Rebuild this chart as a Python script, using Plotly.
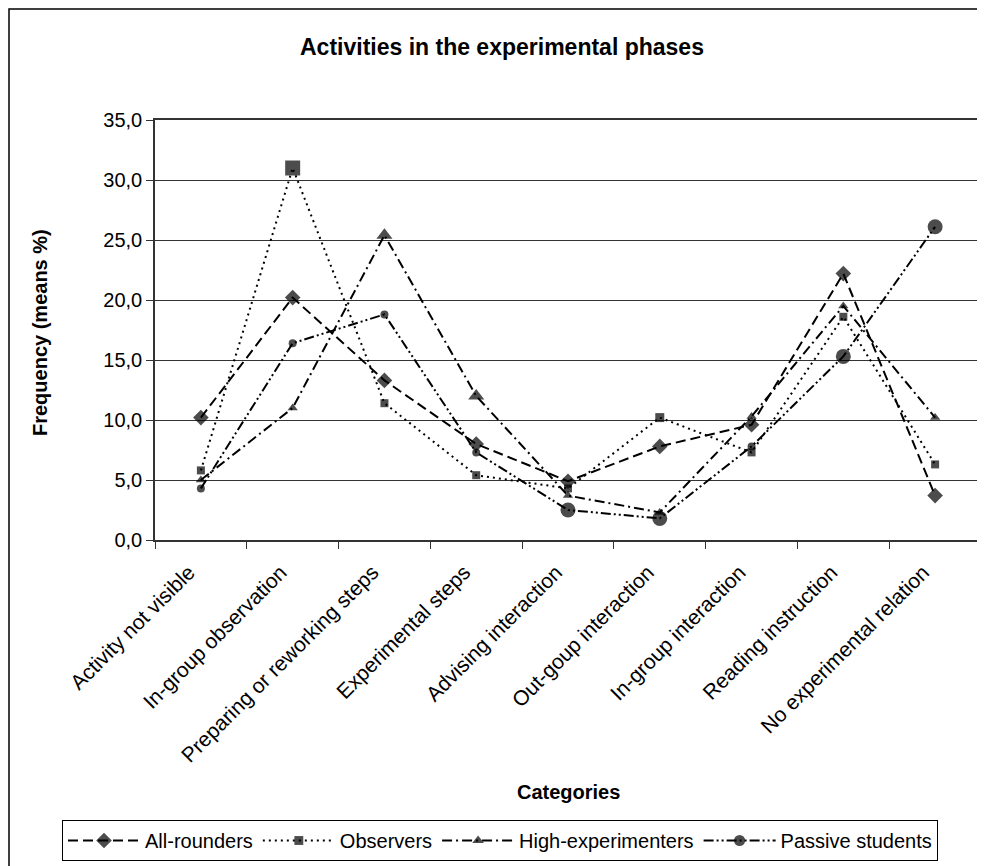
import plotly.graph_objects as go

categories = [
    "Activity not visible",
    "In-group observation",
    "Preparing or reworking steps",
    "Experimental steps",
    "Advising interaction",
    "Out-goup interaction",
    "In-group interaction",
    "Reading instruction",
    "No experimental relation",
]

all_rounders = [10.2, 20.2, 13.3, 8.0, 4.9, 7.8, 9.6, 22.2, 3.7]
observers = [5.8, 31.0, 11.4, 5.4, 4.3, 10.2, 7.3, 18.6, 6.3]
high_experimenters = [5.0, 11.0, 25.4, 12.0, 3.7, 2.3, 10.3, 19.5, 10.2]
passive_students = [4.3, 16.4, 18.8, 7.3, 2.5, 1.8, 7.8, 15.3, 26.1]

y_ticks = [0, 5, 10, 15, 20, 25, 30, 35]

# styles (marker sizes per point, symbols, dashes)
series = [
    ("All-rounders", all_rounders, "diamond", [12] * 9, "10px,5px"),
    ("Observers", observers, "square", [8, 15, 8, 8, 8, 9, 8, 8, 8], "2px,4px"),
    ("High-experimenters", high_experimenters, "triangle-up",
     [9, 9, 14, 14, 9, 9, 9, 9, 9], "10px,4px,2px,4px"),
    ("Passive students", passive_students, "circle",
     [8, 8, 8, 8, 15, 15, 8, 15, 15], "10px,3px,2px,3px,2px,3px"),
]

FONT = "Liberation Sans, Arial, sans-serif"
OFF = 8  # page body margin

fig = go.Figure()
for name, vals, sym, sizes, dash in series:
    fig.add_trace(go.Scatter(
        x=categories, y=vals, name=name, mode="lines+markers",
        line=dict(color="black", width=2, dash=dash),
        marker=dict(symbol=sym, size=sizes, color="black",
                    line=dict(width=0)),
    ))

W, H = 985, 866
L, T = 155 - OFF, 120 - OFF
R = W - (981 - OFF)
B = H - (540 - OFF)
pw = W - L - R
ph = H - T - B


def px(xp):
    return (xp - OFF - L) / pw


def py(yp):
    return (H - B - (yp - OFF)) / ph


fig.update_layout(
    width=W, height=H,
    margin=dict(l=L, r=R, t=T, b=B, autoexpand=False),
    paper_bgcolor="white", plot_bgcolor="white",
    separators=",.",
    font=dict(family=FONT, size=20, color="black"),
    showlegend=True,
    legend=dict(
        orientation="h", x=px(62), xanchor="left", y=py(820), yanchor="top",
        bordercolor="black", borderwidth=1, bgcolor="white",
        font=dict(family=FONT, size=20, color="black"),
        itemwidth=72, tracegroupgap=0,
    ),
    xaxis=dict(
        type="category", tickangle=-45, showgrid=False,
        showline=True, linecolor="#333", linewidth=1.5, mirror=True,
        ticks="outside", ticklen=7, tickcolor="#333", tickson="boundaries",
        tickfont=dict(family=FONT, size=21, color="black"),
        ticklabelshift=-12, ticklabelstandoff=10,
        range=[-0.5, len(categories) - 0.5],
    ),
    yaxis=dict(
        range=[0, 35], tickvals=y_ticks, tickformat=".1f",
        showgrid=True, gridcolor="#333", gridwidth=1.2,
        showline=True, linecolor="#333", linewidth=1.5, mirror=True,
        ticks="outside", ticklen=7, tickcolor="#333",
        tickfont=dict(family=FONT, size=20, color="black"),
        zeroline=False,
    ),
    annotations=[
        dict(text="<b>Activities in the experimental phases</b>", xref="paper", yref="paper",
             x=px(502), y=py(47), xanchor="center", yanchor="middle", showarrow=False,
             font=dict(family=FONT, size=23, color="black")),
        dict(text="<b>Frequency (means %)</b>", xref="paper", yref="paper",
             x=px(40), y=py(332), xanchor="center", yanchor="middle", showarrow=False,
             textangle=-90, font=dict(family=FONT, size=20, color="black")),
        dict(text="<b>Categories</b>", xref="paper", yref="paper",
             x=px(568), y=py(792), xanchor="center", yanchor="middle", showarrow=False,
             font=dict(family=FONT, size=20, color="black")),
    ],
    shapes=[
        dict(type="rect", xref="paper", yref="paper",
             x0=px(OFF + 1), x1=px(1010), y0=py(900), y1=py(OFF + 1),
             line=dict(color="black", width=1.5), fillcolor="rgba(0,0,0,0)", layer="below"),
    ],
)

fig.write_html("out.html")
